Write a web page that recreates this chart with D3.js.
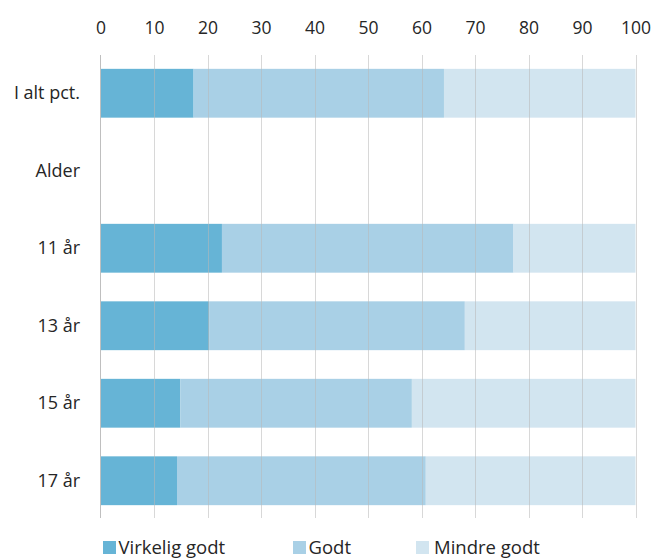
<!DOCTYPE html>
<html><head><meta charset="utf-8">
<script src="https://cdn.jsdelivr.net/npm/d3@7"></script>
<style>body{margin:0;background:#fff;} text{font-family:"Open Sans",sans-serif;fill:#262626;}</style>
</head><body><svg id="c" width="655" height="560"></svg>
<script>
const categories = ["I alt pct.", "Alder", "11 år", "13 år", "15 år", "17 år"];
const seriesNames = ["Virkelig godt", "Godt", "Mindre godt"];
const virkeligGodt = [17.4, null, 22.7, 20.3, 14.9, 14.3];
const godt = [46.8, null, 54.5, 47.8, 43.3, 46.5];
const mindreGodt = [35.8, null, 22.8, 31.9, 41.8, 39.2];
const ticks = [0, 10, 20, 30, 40, 50, 60, 70, 80, 90, 100];
const colors = ["#66b4d6", "#a9d0e6", "#d2e5f0"];

const svg = d3.select("#c");
const x = d3.scaleLinear().domain([0, 100]).range([100.5, 635.5]);
const y = d3.scaleBand().domain(categories).range([54.5, 519.5]).paddingInner(0.37).paddingOuter(0.185);

const rows = categories.map((c, i) => ({cat: c, vals: [virkeligGodt[i], godt[i], mindreGodt[i]]}));
const stackData = rows.filter(r => r.vals[0] != null).map(r => {
  const o = {cat: r.cat}; seriesNames.forEach((s, k) => o[s] = r.vals[k]); return o;
});
const stack = d3.stack().keys(seriesNames)(stackData);

svg.append("g").selectAll("g").data(stack).join("g").attr("fill", (d, i) => colors[i])
  .selectAll("rect").data(d => d).join("rect")
  .attr("x", d => x(d[0])).attr("width", d => x(d[1]) - x(d[0]))
  .attr("y", d => y(d.data.cat)).attr("height", y.bandwidth());

// gridlines on top
svg.append("g").selectAll("line").data(ticks.slice(1)).join("line")
  .attr("x1", d => Math.round(x(d)) + 0.5).attr("x2", d => Math.round(x(d)) + 0.5)
  .attr("y1", 55).attr("y2", 518)
  .attr("stroke", "#b8b8b8").attr("stroke-opacity", 0.55);
svg.append("line").attr("x1", 100.5).attr("x2", 100.5).attr("y1", 55).attr("y2", 518)
  .attr("stroke", "#bfbfbf");

// top axis labels
const xAxis = d3.axisTop(x).tickValues(ticks).tickSize(0).tickPadding(0);
const gx = svg.append("g").attr("transform", "translate(0,34)").call(xAxis);
gx.select(".domain").remove();
gx.selectAll("text").style("font-family", "'Open Sans',sans-serif").style("font-size", "17.5px").attr("fill", "#262626").attr("dy", "0");

// y labels
const yAxis = d3.axisLeft(y).tickSize(0).tickPadding(0);
const gy = svg.append("g").attr("transform", "translate(80,0)").call(yAxis);
gy.select(".domain").remove();
gy.selectAll("text").style("font-family", "'Open Sans',sans-serif").style("font-size", "18px").attr("fill", "#262626");

// legend
const legX = [103, 293, 416];
const leg = svg.append("g").selectAll("g").data(seriesNames).join("g")
  .attr("transform", (d, i) => `translate(${legX[i]},541)`);
leg.append("rect").attr("width", 13).attr("height", 13).attr("fill", (d, i) => colors[i]);
leg.append("text").attr("x", (d, i) => i === 2 ? 18 : 15.5).attr("y", 13).style("font-size", "18.5px").text(d => d);
</script></body></html>
